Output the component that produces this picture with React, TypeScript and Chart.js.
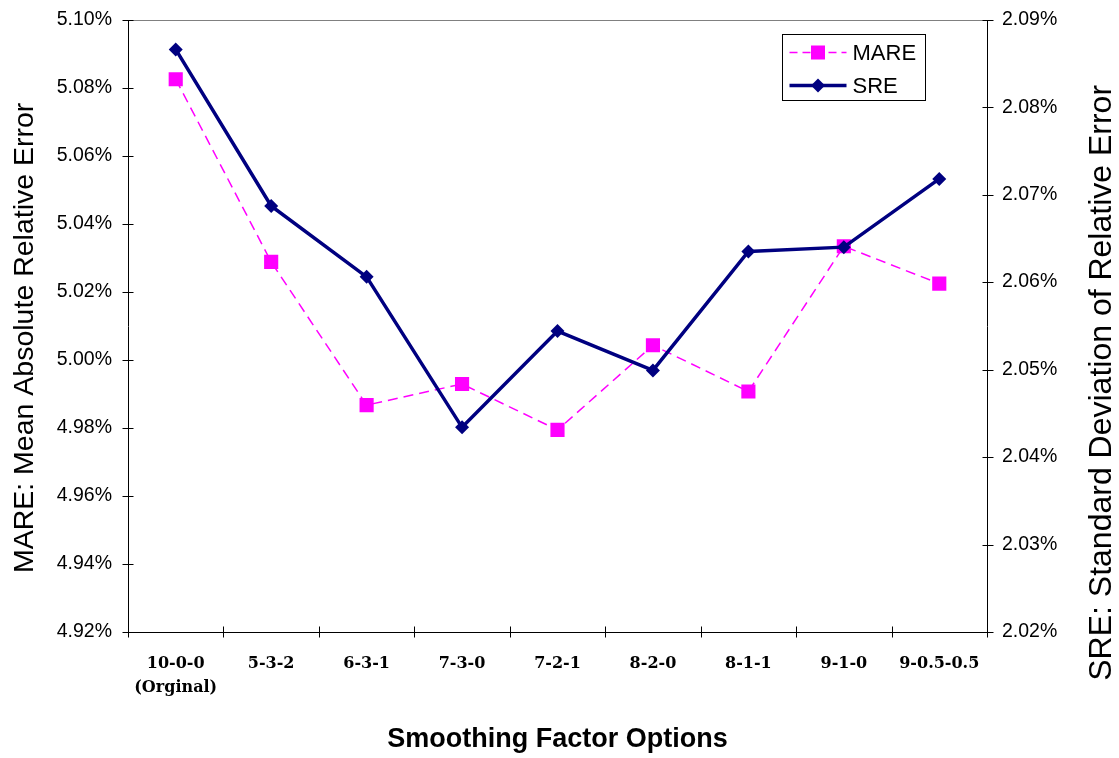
import React, { useEffect, useRef } from "react";
import { Chart, registerables } from "chart.js";

Chart.register(...registerables);

// Smoothing factor options on the category axis
const categories: (string | string[])[] = [
  ["10-0-0", "(Orginal)"],
  "5-3-2",
  "6-3-1",
  "7-3-0",
  "7-2-1",
  "8-2-0",
  "8-1-1",
  "9-1-0",
  "9-0.5-0.5",
];

// Mean absolute relative error, in percent (left axis)
const mareValues = [5.0825, 5.0288, 4.9867, 4.9929, 4.9794, 5.0043, 4.9907, 5.0334, 5.0224];

// Standard deviation of relative error, in percent (right axis)
const sreValues = [2.0866, 2.0687, 2.0606, 2.0434, 2.0544, 2.0499, 2.0635, 2.064, 2.0718];

const mareAxis = { min: 4.92, max: 5.1, step: 0.02 };
const sreAxis = { min: 2.02, max: 2.09, step: 0.01 };

const leftTitle = "MARE: Mean Absolute Relative Error";
const rightTitle = "SRE: Standard Deviation of Relative Error";
const bottomTitle = "Smoothing Factor Options";

const MAGENTA = "#FF00FF";
const NAVY = "#000080";
const SANS = "'Liberation Sans', Arial, sans-serif";
const SERIF = "'DejaVu Serif', serif";

const W = 1119;
const H = 758;

function seg(ctx: CanvasRenderingContext2D, x1: number, y1: number, x2: number, y2: number) {
  ctx.beginPath();
  ctx.moveTo(x1, y1);
  ctx.lineTo(x2, y2);
  ctx.stroke();
}

// Axis lines, crossing tick marks and the plot frame
const axisFrame = {
  id: "axisFrame",
  beforeDatasetsDraw(chart: any) {
    const { ctx, chartArea, scales } = chart;
    const left = Math.round(chartArea.left) + 0.5;
    const right = Math.round(chartArea.right) + 0.5;
    const top = Math.round(chartArea.top) + 0.5;
    const bottom = Math.round(chartArea.bottom) + 0.5;
    ctx.save();
    ctx.lineWidth = 1;
    ctx.strokeStyle = "#808080";
    seg(ctx, left, top, right, top);
    ctx.strokeStyle = "#000000";
    seg(ctx, left, top - 0.5, left, bottom + 0.5);
    seg(ctx, right, top - 0.5, right, bottom + 0.5);
    seg(ctx, left - 0.5, bottom, right + 0.5, bottom);
    scales.y.ticks.forEach((_t: any, i: number) => {
      const py = Math.round(scales.y.getPixelForTick(i)) + 0.5;
      seg(ctx, left - 6, py, left + 5, py);
    });
    scales.y1.ticks.forEach((_t: any, i: number) => {
      const py = Math.round(scales.y1.getPixelForTick(i)) + 0.5;
      seg(ctx, right - 5, py, right + 6, py);
    });
    const n = scales.x.ticks.length;
    for (let i = 0; i <= n; i++) {
      const px = Math.round(scales.x.getPixelForValue(i - 0.5)) + 0.5;
      seg(ctx, px, bottom - 6, px, bottom + 5);
    }
    ctx.restore();
  },
};

// Both vertical axis titles, reading bottom to top
const sideTitles = {
  id: "sideTitles",
  afterDraw(chart: any) {
    const { ctx, chartArea } = chart;
    const mid = (chartArea.top + chartArea.bottom) / 2;
    ctx.save();
    ctx.fillStyle = "#000000";
    ctx.textAlign = "center";
    ctx.textBaseline = "middle";

    ctx.save();
    ctx.translate(25, mid + 12);
    ctx.rotate(-Math.PI / 2);
    ctx.font = `28.5px ${SANS}`;
    ctx.fillText(leftTitle, 0, 0);
    ctx.restore();

    ctx.save();
    ctx.translate(W - 17, mid + 57);
    ctx.rotate(-Math.PI / 2);
    ctx.font = `32px ${SANS}`;
    ctx.fillText(rightTitle, 0, 0);
    ctx.restore();

    ctx.restore();
  },
};

// Boxed legend with line-and-marker samples
const boxedLegend = {
  id: "boxedLegend",
  afterDraw(chart: any) {
    const { ctx, chartArea } = chart;
    const bx = Math.round(chartArea.right) - 205 + 0.5;
    const by = Math.round(chartArea.top) + 14 + 0.5;
    const bw = 143;
    const bh = 66;
    ctx.save();
    ctx.fillStyle = "#ffffff";
    ctx.fillRect(bx, by, bw, bh);
    ctx.strokeStyle = "#000000";
    ctx.lineWidth = 1;
    ctx.strokeRect(bx, by, bw, bh);

    const x1 = bx + 7;
    const x2 = bx + 64;
    const mx = (x1 + x2) / 2;
    const yA = by + 18;
    const yB = by + 51;

    ctx.strokeStyle = MAGENTA;
    ctx.lineWidth = 1.5;
    ctx.setLineDash([8, 5]);
    seg(ctx, x1, yA, x2, yA);
    ctx.setLineDash([]);
    ctx.fillStyle = MAGENTA;
    ctx.fillRect(mx - 7, yA - 7, 14, 14);

    ctx.strokeStyle = NAVY;
    ctx.lineWidth = 3.5;
    seg(ctx, x1, yB, x2, yB);
    ctx.fillStyle = NAVY;
    ctx.beginPath();
    ctx.moveTo(mx, yB - 7);
    ctx.lineTo(mx + 7, yB);
    ctx.lineTo(mx, yB + 7);
    ctx.lineTo(mx - 7, yB);
    ctx.closePath();
    ctx.fill();

    ctx.fillStyle = "#000000";
    ctx.font = `22px ${SANS}`;
    ctx.textAlign = "left";
    ctx.textBaseline = "middle";
    ctx.fillText("MARE", bx + 70, yA + 1);
    ctx.fillText("SRE", bx + 70, yB + 1);
    ctx.restore();
  },
};

export default function App() {
  const canvasRef = useRef<HTMLCanvasElement | null>(null);

  useEffect(() => {
    const canvas = canvasRef.current;
    if (!canvas) return;
    const chart = new Chart(canvas, {
      type: "line",
      data: {
        labels: categories,
        datasets: [
          {
            label: "MARE",
            data: mareValues,
            yAxisID: "y",
            borderColor: MAGENTA,
            backgroundColor: MAGENTA,
            borderWidth: 1.5,
            borderDash: [10, 6],
            pointStyle: "rect",
            pointRadius: 10,
            pointBorderWidth: 0,
            pointBackgroundColor: MAGENTA,
            tension: 0,
            order: 1,
          },
          {
            label: "SRE",
            data: sreValues,
            yAxisID: "y1",
            borderColor: NAVY,
            backgroundColor: NAVY,
            borderWidth: 3.5,
            pointStyle: "rectRot",
            pointRadius: 7,
            pointBorderWidth: 0,
            pointBackgroundColor: NAVY,
            tension: 0,
            order: 0,
          },
        ],
      },
      options: {
        responsive: false,
        animation: false,
        devicePixelRatio: 1,
        layout: { padding: { top: 7.5, left: 0, right: 0, bottom: 0 } },
        plugins: {
          legend: { display: false },
          tooltip: { enabled: false },
        },
        scales: {
          x: {
            type: "category",
            offset: true,
            grid: { display: false },
            border: { display: false },
            ticks: {
              color: "#000000",
              padding: 12,
              maxRotation: 0,
              autoSkip: false,
              font: { family: SERIF, size: 16, weight: "bold", lineHeight: 1.5 },
            },
            title: {
              display: true,
              text: bottomTitle,
              color: "#000000",
              font: { family: SANS, size: 27, weight: "bold" },
              padding: { top: 0, bottom: 2 },
            },
            afterFit(scale: any) {
              scale.height = 126;
            },
          },
          y: {
            position: "left",
            min: mareAxis.min,
            max: mareAxis.max,
            grid: { display: false },
            border: { display: false },
            ticks: {
              stepSize: mareAxis.step,
              color: "#000000",
              padding: 8,
              font: { family: SANS, size: 19.5 },
              callback: (v: any) => Number(v).toFixed(2) + "%",
            },
            afterFit(scale: any) {
              scale.width = 128;
            },
          },
          y1: {
            position: "right",
            min: sreAxis.min,
            max: sreAxis.max,
            grid: { display: false },
            border: { display: false },
            ticks: {
              stepSize: sreAxis.step,
              color: "#000000",
              padding: 7,
              font: { family: SANS, size: 19.5 },
              callback: (v: any) => Number(v).toFixed(2) + "%",
            },
            afterFit(scale: any) {
              scale.width = 132;
            },
          },
        },
      },
      plugins: [axisFrame, sideTitles, boxedLegend],
    });
    return () => chart.destroy();
  }, []);

  return (
    <div style={{ position: "absolute", left: 0, top: 0, width: W, height: H, background: "#ffffff" }}>
      <canvas ref={canvasRef} width={W} height={H} style={{ width: W, height: H, display: "block" }} />
    </div>
  );
}
